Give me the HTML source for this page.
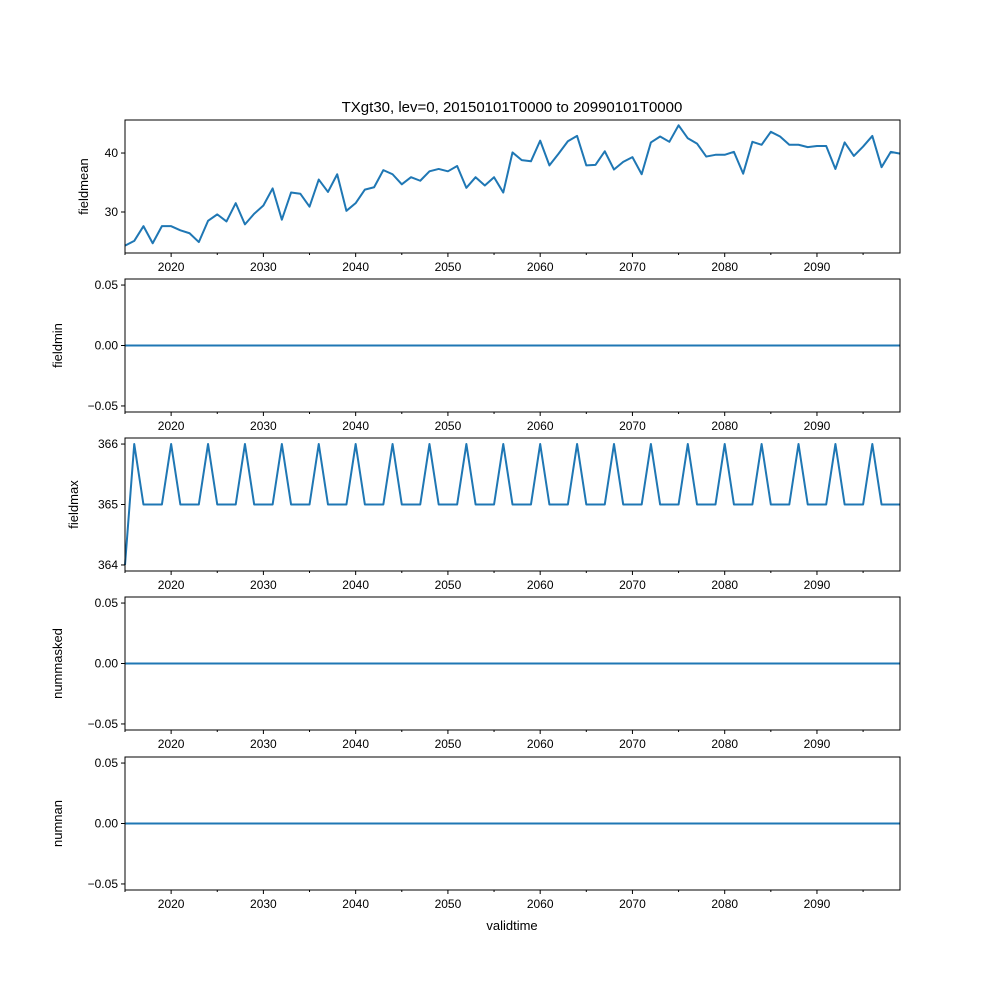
<!DOCTYPE html>
<html><head><meta charset="utf-8"><style>
body{margin:0;background:#fff}
svg{display:block;font-family:"Liberation Sans","DejaVu Sans",sans-serif}
</style></head><body>
<svg id="fig" width="1000" height="1000" viewBox="0 0 1000 1000">
<text x="512" y="112" font-size="15" text-anchor="middle">TXgt30, lev=0, 20150101T0000 to 20990101T0000</text>
<text x="512" y="930" font-size="13" text-anchor="middle">validtime</text>
</svg>
<script>
const years = [];
for (let y = 2015; y <= 2099; y++) years.push(y);
const fieldmean = [24.3,25.1,27.6,24.7,27.6,27.6,26.9,26.4,24.9,28.5,29.6,28.4,31.5,27.9,29.7,31.1,34.0,28.7,33.3,33.1,30.9,35.5,33.4,36.4,30.2,31.5,33.8,34.2,37.1,36.4,34.7,35.9,35.3,36.9,37.3,36.9,37.8,34.1,35.9,34.5,35.9,33.3,40.1,38.8,38.6,42.1,37.9,39.9,42.0,42.9,37.9,38.0,40.3,37.2,38.5,39.3,36.4,41.8,42.8,41.9,44.7,42.5,41.6,39.4,39.7,39.7,40.2,36.5,41.9,41.4,43.6,42.8,41.4,41.4,41.0,41.2,41.2,37.3,41.8,39.5,41.1,42.9,37.6,40.2,39.9];
const fieldmin = years.map(()=>0);
const fieldmax = [364,366,365,365,365,366,365,365,365,366,365,365,365,366,365,365,365,366,365,365,365,366,365,365,365,366,365,365,365,366,365,365,365,366,365,365,365,366,365,365,365,366,365,365,365,366,365,365,365,366,365,365,365,366,365,365,365,366,365,365,365,366,365,365,365,366,365,365,365,366,365,365,365,366,365,365,365,366,365,365,365,366,365,365,365];
const nummasked = years.map(()=>0);
const numnan = years.map(()=>0);
const xMajorTicks = [2020,2030,2040,2050,2060,2070,2080,2090];
const xMinorTicks = [2015,2025,2035,2045,2055,2065,2075,2085,2095];

const NS="http://www.w3.org/2000/svg";
const svg=document.getElementById('fig');
const X0=125,X1=900,XMIN=2015,XMAX=2099;
const xs=v=>X0+(v-XMIN)/(XMAX-XMIN)*(X1-X0);
function mk(tag,attrs,parent){const e=document.createElementNS(NS,tag);for(const k in attrs)e.setAttribute(k,attrs[k]);(parent||svg).appendChild(e);return e;}

const panels=[
 {name:'fieldmean',data:fieldmean,top:120,ymin:23.05,ymax:45.6,ticks:[30,40],fmt:v=>String(v)},
 {name:'fieldmin',data:fieldmin,top:279,ymin:-0.055,ymax:0.055,ticks:[-0.05,0,0.05],fmt:v=>v.toFixed(2).replace('-','\u2212')},
 {name:'fieldmax',data:fieldmax,top:438,ymin:363.9,ymax:366.1,ticks:[364,365,366],fmt:v=>String(v)},
 {name:'nummasked',data:nummasked,top:597,ymin:-0.055,ymax:0.055,ticks:[-0.05,0,0.05],fmt:v=>v.toFixed(2).replace('-','\u2212')},
 {name:'numnan',data:numnan,top:757,ymin:-0.055,ymax:0.055,ticks:[-0.05,0,0.05],fmt:v=>v.toFixed(2).replace('-','\u2212')}
];
const H=133;
panels.forEach(p=>{
  const g=mk('g',{});
  
  
  const ys=v=>p.top+H-(v-p.ymin)/(p.ymax-p.ymin)*H;
  const pts=p.data.map((v,i)=>xs(years[i]).toFixed(2)+','+ys(v).toFixed(2)).join(' ');
  const line=mk('polyline',{points:pts,fill:'none',stroke:'#1f77b4','stroke-width':2,'stroke-linejoin':'round'},g);
  
  
  const frame=mk('rect',{x:X0,y:p.top,width:X1-X0,height:H,fill:'none',stroke:'#000','stroke-width':1},g);
  
  
  const yb=p.top+H;
  xMajorTicks.forEach(t=>{
    mk('line',{x1:xs(t),x2:xs(t),y1:yb,y2:yb+4,stroke:'#000'},g);
    const tx=mk('text',{x:xs(t),y:yb+18,'font-size':12,'text-anchor':'middle'},g);
    tx.textContent=t;
    
    
  });
  xMinorTicks.forEach(t=>{mk('line',{x1:xs(t),x2:xs(t),y1:yb,y2:yb+2,stroke:'#000'},g);});
  p.ticks.forEach(t=>{
    mk('line',{x1:X0-4,x2:X0,y1:ys(t),y2:ys(t),stroke:'#000'},g);
    const tx=mk('text',{x:X0-7,y:ys(t)+4,'font-size':12,'text-anchor':'end'},g);
    tx.textContent=p.fmt(t);
    
    
  });
  const lx=p.ticks.length===2?88:(p.name==='fieldmax'?78:62);
  const cy=p.top+H/2;
  const lab=mk('text',{x:lx,y:cy,'font-size':13,'text-anchor':'middle',transform:`rotate(-90 ${lx} ${cy})`},g);
  lab.textContent=p.name;
  
  
});
</script>
</body></html>
